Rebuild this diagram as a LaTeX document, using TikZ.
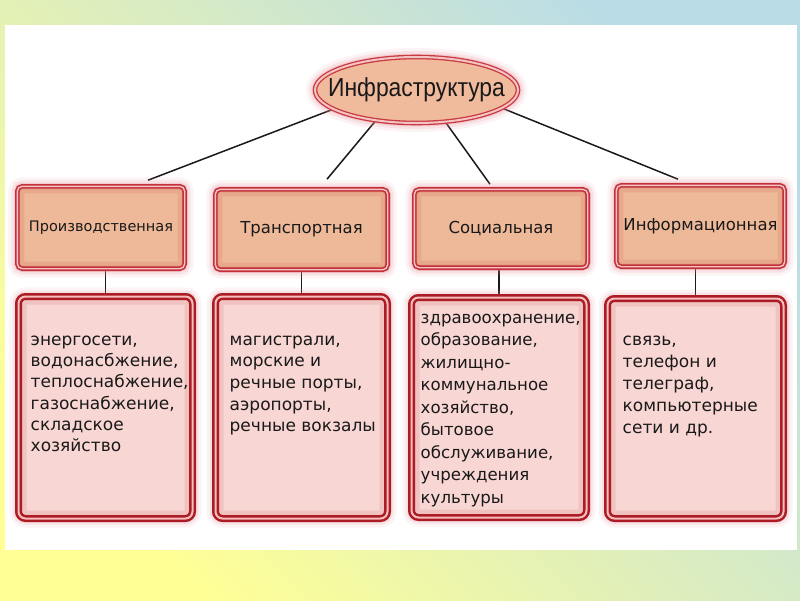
\documentclass[tikz,border=0pt]{standalone}
\usepackage{fontspec}
\usetikzlibrary{shapes.geometric,calc}
\newfontfamily\vfont{DejaVu Sans}
\newfontfamily\afont{Liberation Sans}
\definecolor{bgY}{RGB}{255,255,150}
\definecolor{bgB}{RGB}{186,220,230}
\definecolor{hdrfill}{RGB}{238,185,152}
\definecolor{hdrline}{RGB}{196,48,58}
\definecolor{hdrgap}{RGB}{245,196,196}
\definecolor{cntfill}{RGB}{248,214,211}
\definecolor{cntline}{RGB}{172,28,36}
\definecolor{cntgap}{RGB}{246,190,190}
\definecolor{glowc}{RGB}{232,140,152}
\definecolor{ellfill}{RGB}{240,186,156}
\definecolor{ellline}{RGB}{200,58,64}
\definecolor{linec}{RGB}{25,25,25}
\definecolor{txtc}{RGB}{25,25,25}
\pgfdeclarelayer{bg}
\pgfdeclarelayer{mid}
\pgfsetlayers{bg,mid,main}
\begin{document}
\begin{tikzpicture}[x=1pt,y=-1pt,
  conn/.style={draw=linec, line width=1.5pt},
  glow/.style={preaction={draw=glowc, line width=18pt, opacity=0.10},
               preaction={draw=glowc, line width=12pt, opacity=0.16},
               preaction={draw=glowc, line width=7pt, opacity=0.28}},
  hdr/.style={glow, rectangle, rounded corners=5pt, fill=hdrfill,
              draw=hdrline, double=hdrgap, double distance=1.4pt, line width=1.6pt,
              inner sep=0pt, text=txtc,
              font=\vfont\fontsize{16.5}{19}\selectfont,
              path picture={\draw[hdrline, line width=14pt, opacity=0.12]
                 (path picture bounding box.south west) rectangle (path picture bounding box.north east);
                 \draw[hdrline, line width=6pt, opacity=0.12]
                 (path picture bounding box.south west) rectangle (path picture bounding box.north east);}},
  cnt/.style={glow, rectangle, rounded corners=7pt, fill=cntfill,
              draw=cntline, double=cntgap, double distance=2pt, line width=2.5pt,
              inner sep=0pt,
              path picture={\draw[cntline, line width=16pt, opacity=0.10]
                 (path picture bounding box.south west) rectangle (path picture bounding box.north east);
                 \draw[cntline, line width=7pt, opacity=0.12]
                 (path picture bounding box.south west) rectangle (path picture bounding box.north east);}},
  ctext/.style={anchor=north west, align=left, inner sep=0pt, text=txtc},
  ell/.style={glow, ellipse, fill=ellfill, draw=ellline, double=hdrgap,
              double distance=2pt, line width=1.3pt, inner sep=0pt,
              minimum width=203pt, minimum height=66pt, text=txtc,
              font=\afont\fontsize{26}{30}\selectfont}
]
\useasboundingbox (0,0) rectangle (800,600);
\begin{pgfonlayer}{bg}
  \shade[bottom color=bgY, top color=bgB, shading angle=-45] (0,0) rectangle (800,600);
  \fill[white] (5,25) rectangle (797,550);
\end{pgfonlayer}

\node[ell] (ell) at (416.5,90) {\makebox[0pt]{\scalebox{0.88}[1]{Инфраструктура}}};

\node[hdr, minimum width=167.4pt, minimum height=82.4pt, font=\vfont\fontsize{14.5}{17}\selectfont] (h1) at (101,227.5) {Производственная};
\node[hdr, minimum width=172.4pt, minimum height=80.4pt] (h2) at (301.5,229.5) {Транспортная};
\node[hdr, minimum width=173.4pt, minimum height=78.4pt] (h3) at (501,228.5) {Социальная};
\node[hdr, minimum width=168.4pt, minimum height=81.4pt] (h4) at (700.5,226) {Информационная};

\node[cnt, minimum width=174pt, minimum height=222pt] (c1) at (105.5,407.5) {};
\node[cnt, minimum width=172pt, minimum height=222pt] (c2) at (301.5,407.5) {};
\node[cnt, minimum width=175pt, minimum height=220pt] (c3) at (499,407.5) {};
\node[cnt, minimum width=176pt, minimum height=220pt] (c4) at (695.5,408.5) {};

\begin{pgfonlayer}{mid}
  \draw[conn] (ell.193.7) -- ($(h1.north)+(47,-5.3)$);
  \draw[conn] (ell.217.6) -- ($(h2.north)+(25.5,-9.3)$);
  \draw[conn] (ell.312.7) -- ($(h3.north)+(-11,-4.3)$);
  \draw[conn] (ell.348.5) -- ($(h4.north)+(-22.5,-5.3)$);
  \draw[conn] (c1.north) -- (c1.north |- h1.south);
  \draw[conn] (c2.north) -- (c2.north |- h2.south);
  \draw[conn] (c3.north) -- (c3.north |- h3.south);
  \draw[conn] (c4.north) -- (c4.north |- h4.south);
\end{pgfonlayer}

\node[ctext, font=\vfont\fontsize{17}{21.3}\selectfont] (t1) at (30.5,330.1)
  {\strut энергосети,\\водонасбжение,\\теплоснабжение,\\газоснабжение,\\складское\\хозяйство};
\node[ctext, font=\vfont\fontsize{17}{21.7}\selectfont] (t2) at (229.5,329.8)
  {\strut магистрали,\\морские и\\речные порты,\\аэропорты,\\речные вокзалы};
\node[ctext, font=\vfont\fontsize{16.6}{22.5}\selectfont] (t3) at (420.5,307.2)
  {\strut здравоохранение,\\образование,\\жилищно-\\коммунальное\\хозяйство,\\бытовое\\обслуживание,\\учреждения\\культуры};
\node[ctext, font=\vfont\fontsize{17}{22}\selectfont] (t4) at (622.5,329.6)
  {\strut связь,\\телефон и\\телеграф,\\компьютерные\\сети и др.};
\end{tikzpicture}
\end{document}
